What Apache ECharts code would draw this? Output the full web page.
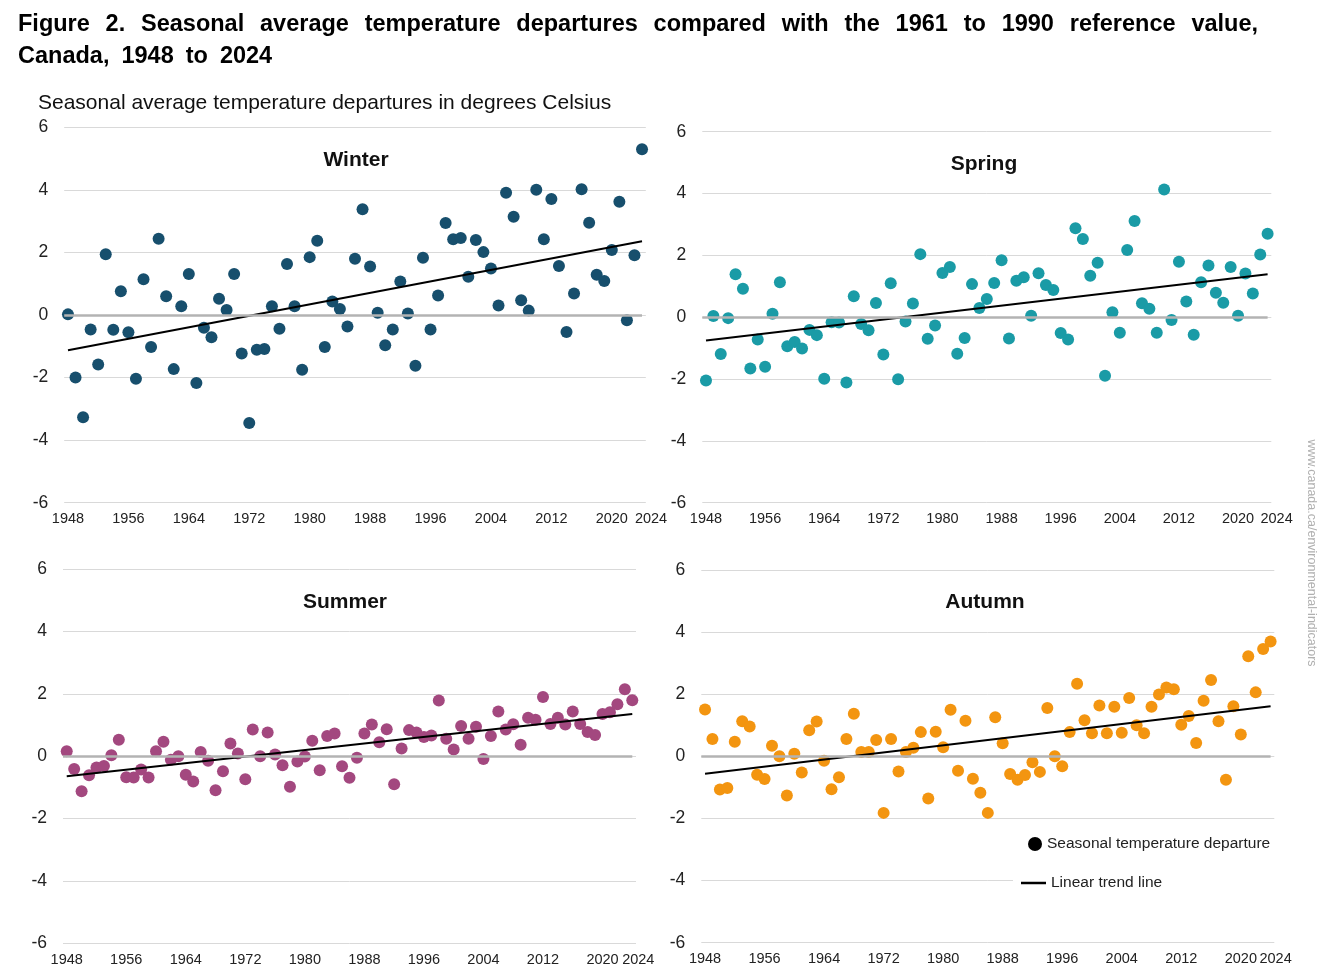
<!DOCTYPE html>
<html><head><meta charset="utf-8">
<script src="https://cdn.jsdelivr.net/npm/echarts@6/dist/echarts.min.js"></script>
<style>html,body{margin:0;padding:0;background:#fff}#c{width:1322px;height:977px}</style>
</head><body><div id="c"></div>
<script>
// ---------------- DATA ----------------
const firstYear = 1948;
const lastYear = 2024;
const xTickLabels = [1948, 1956, 1964, 1972, 1980, 1988, 1996, 2004, 2012, 2020, 2024];
const yTickMin = -6, yTickMax = 6, yTickStep = 2;

const winterValues = [
  0.02, -2.00, -3.27, -0.46, -1.58, 1.94, -0.47, 0.76, -0.55, -2.04,
  1.14, -1.02, 2.44, 0.60, -1.73, 0.28, 1.31, -2.17, -0.41, -0.71,
  0.52, 0.16, 1.31, -1.23, -3.45, -1.11, -1.09, 0.28, -0.44, 1.63,
  0.28, -1.75, 1.85, 2.37, -1.02, 0.43, 0.19, -0.37, 1.80, 3.38,
  1.55, 0.07, -0.97, -0.46, 1.07, 0.05, -1.62, 1.83, -0.46, 0.62,
  2.94, 2.42, 2.46, 1.22, 2.40, 2.01, 1.49, 0.30, 3.91, 3.14,
  0.47, 0.14, 4.00, 2.42, 3.71, 1.57, -0.54, 0.69, 4.02, 2.95,
  1.29, 1.09, 2.08, 3.62, -0.17, 1.91, 5.30
];
const springValues = [
  -2.05, 0.04, -1.19, -0.03, 1.39, 0.92, -1.66, -0.72, -1.60, 0.11,
  1.13, -0.94, -0.80, -1.01, -0.41, -0.58, -1.99, -0.16, -0.17, -2.11,
  0.68, -0.22, -0.42, 0.46, -1.21, 1.10, -2.01, -0.14, 0.44, 2.04,
  -0.70, -0.27, 1.43, 1.62, -1.18, -0.67, 1.07, 0.30, 0.59, 1.11,
  1.84, -0.69, 1.18, 1.29, 0.05, 1.42, 1.04, 0.88, -0.51, -0.72,
  2.88, 2.53, 1.34, 1.76, -1.89, 0.16, -0.50, 2.17, 3.11, 0.45,
  0.27, -0.50, 4.13, -0.09, 1.79, 0.51, -0.57, 1.13, 1.67, 0.79,
  0.47, 1.62, 0.05, 1.41, 0.77, 2.03, 2.70
];
const summerValues = [
  0.16, -0.41, -1.12, -0.61, -0.36, -0.31, 0.03, 0.53, -0.67, -0.68,
  -0.42, -0.68, 0.16, 0.47, -0.11, 0.00, -0.59, -0.81, 0.14, -0.14,
  -1.09, -0.48, 0.41, 0.09, -0.74, 0.86, 0.00, 0.76, 0.06, -0.29,
  -0.98, -0.17, -0.01, 0.50, -0.45, 0.65, 0.73, -0.32, -0.69, -0.05,
  0.73, 1.02, 0.45, 0.87, -0.90, 0.25, 0.84, 0.76, 0.62, 0.67,
  1.79, 0.56, 0.22, 0.97, 0.56, 0.95, -0.09, 0.65, 1.44, 0.86,
  1.03, 0.37, 1.24, 1.17, 1.90, 1.04, 1.24, 1.02, 1.44, 1.04,
  0.78, 0.68, 1.36, 1.41, 1.67, 2.15, 1.80
];
const autumnValues = [
  1.51, 0.56, -1.07, -1.02, 0.47, 1.13, 0.96, -0.59, -0.73, 0.34,
  0.00, -1.26, 0.08, -0.52, 0.84, 1.12, -0.14, -1.06, -0.67, 0.56,
  1.37, 0.14, 0.14, 0.53, -1.82, 0.56, -0.49, 0.14, 0.28, 0.78,
  -1.36, 0.79, 0.29, 1.50, -0.46, 1.15, -0.72, -1.17, -1.82, 1.26,
  0.42, -0.57, -0.75, -0.60, -0.19, -0.50, 1.56, 0.00, -0.32, 0.78,
  2.34, 1.16, 0.74, 1.64, 0.74, 1.60, 0.76, 1.88, 1.00, 0.74,
  1.60, 1.99, 2.22, 2.16, 1.02, 1.30, 0.43, 1.79, 2.46, 1.13,
  -0.75, 1.61, 0.70, 3.22, 2.06, 3.46, 3.70
];
// linear trend line values at first and last year
const winterTrend = [-1.13, 2.36];
const springTrend = [-0.75, 1.39];
const summerTrend = [-0.64, 1.36];
const autumnTrend = [-0.56, 1.61];

const seasonNames = ['Winter', 'Spring', 'Summer', 'Autumn'];
const titleLine1 = 'Figure 2. Seasonal average temperature departures compared with the 1961 to 1990 reference value,';
const titleLine2 = 'Canada, 1948 to 2024';
const subtitleText = 'Seasonal average temperature departures in degrees Celsius';
const pointLegendName = 'Seasonal temperature departure';
const trendLegendName = 'Linear trend line';
const sourceText = 'www.canada.ca/environmental-indicators';

// ---------------- LAYOUT / STYLE ----------------
const FONT = '"Liberation Sans", Arial, Helvetica, sans-serif';
const panels = [
  { values: winterValues, trend: winterTrend, color: '#174f6d',
    grid: { left: 64.2, top: 127.3, width: 581.6, height: 375.4 }, tx: 356, ty: 160, lastPad: 18 },
  { values: springValues, trend: springTrend, color: '#1a9ba6',
    grid: { left: 702.3, top: 131.7, width: 569, height: 371 }, tx: 984, ty: 164, lastPad: 18 },
  { values: summerValues, trend: summerTrend, color: '#a3487f',
    grid: { left: 63, top: 569.3, width: 573, height: 374 }, tx: 345, ty: 602, lastPad: 12 },
  { values: autumnValues, trend: autumnTrend, color: '#f39510',
    grid: { left: 701.3, top: 570, width: 573, height: 372.7 }, tx: 985, ty: 602, lastPad: 10 }
];

const grids = [], xAxes = [], yAxes = [], series = [];
panels.forEach((p, i) => {
  grids.push(Object.assign({ containLabel: false }, p.grid));
  xAxes.push({
    type: 'value', gridIndex: i, min: firstYear - 0.5, max: lastYear + 0.5,
    splitLine: { show: false }, axisLine: { show: false }, axisTick: { show: false },
    axisLabel: {
      customValues: xTickLabels, margin: 9, fontSize: 14.5, color: '#222', fontFamily: FONT,
      formatter: v => (v === lastYear ? '{r|' + v + '}' : String(v)),
      rich: { r: { fontSize: 14.5, color: '#222', fontFamily: FONT, padding: [0, 0, 0, p.lastPad] } }
    }
  });
  yAxes.push({
    type: 'value', gridIndex: i, min: yTickMin, max: yTickMax, interval: yTickStep,
    axisLine: { show: false }, axisTick: { show: false },
    splitLine: { show: true, lineStyle: { color: '#d9d9d9', width: 1 } },
    axisLabel: { fontSize: 17.5, color: '#222', margin: 16, fontFamily: FONT }
  });
  // zero reference line
  series.push({
    type: 'line', xAxisIndex: i, yAxisIndex: i, data: [], z: 1, silent: true,
    markLine: {
      silent: true, symbol: 'none', label: { show: false },
      lineStyle: { color: '#b3b3b3', width: 2.5, type: 'solid' },
      emphasis: { disabled: true },
      data: [[{ xAxis: firstYear - 0.5, yAxis: 0 }, { xAxis: lastYear, yAxis: 0 }]]
    }
  });
  series.push({
    type: 'scatter', name: pointLegendName, xAxisIndex: i, yAxisIndex: i, z: 3,
    symbolSize: 12, itemStyle: { color: p.color, opacity: 1 },
    data: p.values.map((v, k) => [firstYear + k, v])
  });
  series.push({
    type: 'line', name: trendLegendName, xAxisIndex: i, yAxisIndex: i, z: 4,
    symbol: 'none', lineStyle: { color: '#000', width: 2 }, itemStyle: { color: '#000' },
    data: [[firstYear, p.trend[0]], [lastYear, p.trend[1]]]
  });
});

// justified title words
const graphics = [];
const ctx = document.createElement('canvas').getContext('2d');
const titleSize = 23.5;
ctx.font = 'bold ' + titleSize + 'px ' + FONT;
const w1 = titleLine1.split(' ');
const widths1 = w1.map(w => ctx.measureText(w).width);
const left0 = 18, right0 = 1258;
const gap = (right0 - left0 - widths1.reduce((a, b) => a + b, 0)) / (w1.length - 1);
function placeWords(words, y, g) {
  let x = left0;
  words.forEach(w => {
    graphics.push({ type: 'text', x: x, y: y, silent: true,
      style: { text: w, fill: '#000', fontSize: titleSize, fontWeight: 'bold', fontFamily: FONT, verticalAlign: 'middle' } });
    x += ctx.measureText(w).width + g;
  });
}
placeWords(w1, 25, gap);
placeWords(titleLine2.split(' '), 57, 12);

graphics.push({ type: 'text', x: 38, y: 103, silent: true,
  style: { text: subtitleText, fill: '#111', fontSize: 21, fontFamily: FONT, verticalAlign: 'middle' } });
panels.forEach((p, i) => {
  graphics.push({ type: 'text', x: p.tx, y: p.ty, silent: true,
    style: { text: seasonNames[i], fill: '#111', fontSize: 21, fontWeight: 'bold', fontFamily: FONT, align: 'center', verticalAlign: 'middle' } });
});
graphics.push({ type: 'text', x: 1311, y: 553, rotation: -Math.PI / 2, silent: true,
  style: { text: sourceText, fill: '#b0b0b0', fontSize: 12.5, fontFamily: FONT, align: 'center', verticalAlign: 'middle' } });
graphics.push({ type: 'rect', z: 5, silent: true, shape: { x: 1013, y: 828, width: 272, height: 72 },
  style: { fill: '#fff' } });

const chart = echarts.init(document.getElementById('c'), null, { renderer: 'canvas' });
chart.setOption({
  backgroundColor: '#fff',
  animation: false,
  grid: grids, xAxis: xAxes, yAxis: yAxes, series: series,
  legend: [
    { data: [{ name: pointLegendName, icon: 'circle', itemStyle: { color: '#000' } }],
      left: 1028, top: 836, itemWidth: 14, itemHeight: 14, padding: 0, z: 10, selectedMode: false,
      textStyle: { fontSize: 15.5, color: '#222', fontFamily: FONT } },
    { data: [{ name: trendLegendName, icon: 'rect', itemStyle: { color: '#000' } }],
      left: 1021, top: 875, itemWidth: 25, itemHeight: 2.5, padding: 0, z: 10, selectedMode: false,
      textStyle: { fontSize: 15.5, color: '#222', fontFamily: FONT } }
  ],
  graphic: { elements: graphics }
});
</script>
</body></html>
